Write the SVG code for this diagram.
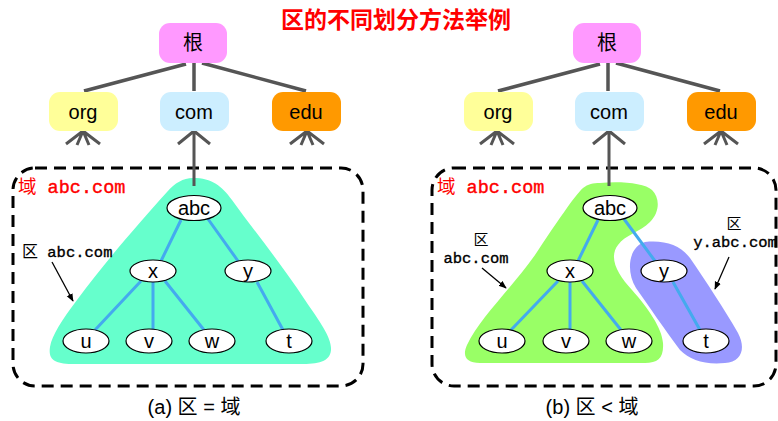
<svg xmlns="http://www.w3.org/2000/svg" width="778" height="421" viewBox="0 0 778 421">
<defs>
<style>
.lbl{font-family:"Liberation Sans","Noto Sans CJK SC",sans-serif;font-size:20px;fill:#000;text-anchor:middle}
.tree{stroke:#555;stroke-width:3.5;fill:none;stroke-linecap:butt}
.fan{stroke:#555;stroke-width:3;fill:none}
.dom{fill:none;stroke:#000;stroke-width:3;stroke-dasharray:12,7}
.edge{stroke:#44AAEE;stroke-width:3;fill:none}
.node ellipse{fill:#fff;stroke:#000;stroke-width:1.2}
.node text{font-family:"Liberation Sans",sans-serif;font-size:20px;text-anchor:middle;fill:#000}
.red{font-family:"Liberation Mono","Noto Sans CJK SC",monospace;font-size:18.5px;fill:#ff0000;stroke:#ff0000;stroke-width:0.4}
.mono{font-family:"Liberation Mono","Noto Sans CJK SC",monospace;font-size:15.5px;fill:#000;stroke:#000;stroke-width:0.35}
.cjk{font-family:"Noto Sans CJK SC",sans-serif;font-size:15px;fill:#000;text-anchor:middle}
.cap{font-family:"Liberation Sans","Noto Sans CJK SC",sans-serif;font-size:20px;fill:#000;text-anchor:middle}
.arr{stroke:#000;stroke-width:1.3;fill:none;marker-end:url(#ah)}
</style>
<marker id="ah" viewBox="0 0 10 10" refX="9" refY="5" markerWidth="8" markerHeight="8" orient="auto" markerUnits="userSpaceOnUse">
<path d="M0,1 L10,5 L0,9 Z" fill="#000"/>
</marker>
</defs>
<rect width="778" height="421" fill="#fff"/>
<text x="396" y="28" font-family="Liberation Sans,Noto Sans CJK SC,sans-serif" font-size="23" font-weight="bold" fill="#ff0000" text-anchor="middle">区的不同划分方法举例</text>

<!-- shaded zones -->
<g id="zone-a">
<path d="M193,178 C212,178 222,186 232,200 C255,232 280,262 305,300 C320,322 332,338 331,350 C330,362 318,364 300,364 L75,364 C55,364 48,360 50,347 C52,335 62,320 77,300 C105,262 140,222 167,192 C175,183 183,178 193,178 Z" fill="#66FFCC"/>
</g>
<g id="zone-b-main">
<path d="M600,183 C620,181 645,183 652,190 C660,198 660,212 650,222 C640,232 625,235 618,245 C608,258 618,275 632,290 C648,308 662,328 663,343 C664,358 658,363 645,363 L480,363 C466,363 462,356 467,345 C480,318 510,290 535,255 C555,225 575,195 583,188 C588,184 593,183 600,183 Z" fill="#99FF66"/>
</g>
<g id="zone-b-y">
<path d="M645,242 C665,240 680,245 690,258 C705,280 725,310 738,333 C746,348 742,362 725,363 C705,365 690,360 680,350 C665,330 648,305 636,288 C626,272 628,247 645,242 Z" fill="#9999FF"/>
</g>

<!-- domain boxes -->
<g id="domain-a"><rect class="dom" x="13" y="168" width="350" height="218" rx="22"/>
<text x="18" y="193" class="red"><tspan font-family="Noto Sans CJK SC,sans-serif" stroke="none">域</tspan> abc.com</text></g>
<g id="domain-b"><rect class="dom" x="432" y="168" width="344" height="218" rx="22"/>
<text x="437" y="193" class="red"><tspan font-family="Noto Sans CJK SC,sans-serif" stroke="none">域</tspan> abc.com</text></g>

<!-- connectors -->
<g id="connectors">
<path class="tree" d="M186,64 L84,91 M194,63 L194,91 M202,63 L306,91"/>
<path class="tree" d="M600,64 L498,91 M608,63 L608,91 M616,63 L720,91"/>
<path class="fan" d="M83,131 L66,144 M83,131 L77,145 M83,131 L89,145 M83,131 L100,144"/>
<path class="fan" d="M194,131 L178,144 M194,131 L210,144 M194,131 L194,186"/>
<path class="fan" d="M307,131 L290,144 M307,131 L301,145 M307,131 L313,145 M307,131 L324,144"/>
<path class="fan" d="M497,131 L480,144 M497,131 L491,145 M497,131 L503,145 M497,131 L514,144"/>
<path class="fan" d="M609,131 L593,144 M609,131 L625,144 M609,131 L609,186"/>
<path class="fan" d="M721,131 L704,144 M721,131 L715,145 M721,131 L727,145 M721,131 L738,144"/>
<path class="edge" d="M181,220 L161,261 M208,219 L238,261 M141,281 L95,330 M153,282 L153,330 M165,281 L204,330 M257,282 L283,330"/>
<path class="edge" d="M598,220 L578,261 M624,219 L655,261 M558,281 L511,330 M570,282 L570,330 M582,281 L621,330 M673,282 L700,330"/>
<path class="arr" d="M52,262 L73,301"/>
<path class="arr" d="M482,268 L506,288"/>
<path class="arr" d="M729,257 L715,289"/>
</g>

<!-- top nodes left -->
<g id="root-a"><rect x="159" y="23" width="68" height="40" rx="11" fill="#FF99FF"/><text class="lbl" x="193" y="50">根</text></g>
<g id="org-a"><rect x="49" y="92" width="69" height="39" rx="11" fill="#FFFF99"/><text class="lbl" x="83" y="119">org</text></g>
<g id="com-a"><rect x="160" y="92" width="69" height="39" rx="11" fill="#CCEEFF"/><text class="lbl" x="194" y="119">com</text></g>
<g id="edu-a"><rect x="272" y="92" width="69" height="39" rx="11" fill="#FF9900"/><text class="lbl" x="306" y="119">edu</text></g>
<!-- top nodes right -->
<g id="root-b"><rect x="573" y="23" width="68" height="40" rx="11" fill="#FF99FF"/><text class="lbl" x="607" y="50">根</text></g>
<g id="org-b"><rect x="464" y="92" width="69" height="39" rx="11" fill="#FFFF99"/><text class="lbl" x="498" y="119">org</text></g>
<g id="com-b"><rect x="575" y="92" width="69" height="39" rx="11" fill="#CCEEFF"/><text class="lbl" x="609" y="119">com</text></g>
<g id="edu-b"><rect x="687" y="92" width="69" height="39" rx="11" fill="#FF9900"/><text class="lbl" x="721" y="119">edu</text></g>

<!-- tree nodes left -->
<g id="abc-a" class="node"><ellipse cx="194" cy="208" rx="27" ry="12.5"/><text x="194" y="215">abc</text></g>
<g id="x-a" class="node"><ellipse cx="153" cy="271" rx="23" ry="11"/><text x="153" y="278">x</text></g>
<g id="y-a" class="node"><ellipse cx="248" cy="271" rx="23" ry="11"/><text x="248" y="278">y</text></g>
<g id="u-a" class="node"><ellipse cx="86" cy="341" rx="23" ry="12"/><text x="86" y="348">u</text></g>
<g id="v-a" class="node"><ellipse cx="149" cy="341" rx="23" ry="12"/><text x="149" y="348">v</text></g>
<g id="w-a" class="node"><ellipse cx="212" cy="341" rx="23" ry="12"/><text x="212" y="348">w</text></g>
<g id="t-a" class="node"><ellipse cx="289" cy="341" rx="23" ry="12"/><text x="289" y="348">t</text></g>
<!-- tree nodes right -->
<g id="abc-b" class="node"><ellipse cx="610" cy="208" rx="27" ry="12.5"/><text x="610" y="215">abc</text></g>
<g id="x-b" class="node"><ellipse cx="570" cy="271" rx="23" ry="11"/><text x="570" y="278">x</text></g>
<g id="y-b" class="node"><ellipse cx="664" cy="271" rx="23" ry="11"/><text x="664" y="278">y</text></g>
<g id="u-b" class="node"><ellipse cx="502" cy="341" rx="23" ry="12"/><text x="502" y="348">u</text></g>
<g id="v-b" class="node"><ellipse cx="566" cy="341" rx="23" ry="12"/><text x="566" y="348">v</text></g>
<g id="w-b" class="node"><ellipse cx="629" cy="341" rx="23" ry="12"/><text x="629" y="348">w</text></g>
<g id="t-b" class="node"><ellipse cx="706" cy="341" rx="23" ry="12"/><text x="706" y="348">t</text></g>

<!-- zone labels -->
<g id="label-zone-a"><text class="mono" x="22" y="257"><tspan font-family="Noto Sans CJK SC,sans-serif" font-size="16" stroke="none">区</tspan> abc.com</text></g>
<g id="label-zone-b1"><text class="cjk" x="481" y="245">区</text><text class="mono" x="476" y="263" text-anchor="middle">abc.com</text></g>
<g id="label-zone-b2"><text class="cjk" x="734" y="229">区</text><text class="mono" x="735" y="247" text-anchor="middle">y.abc.com</text></g>

<text class="cap" x="194" y="414">(a) 区 = 域</text>
<text class="cap" x="592" y="414">(b) 区 &lt; 域</text>
</svg>
